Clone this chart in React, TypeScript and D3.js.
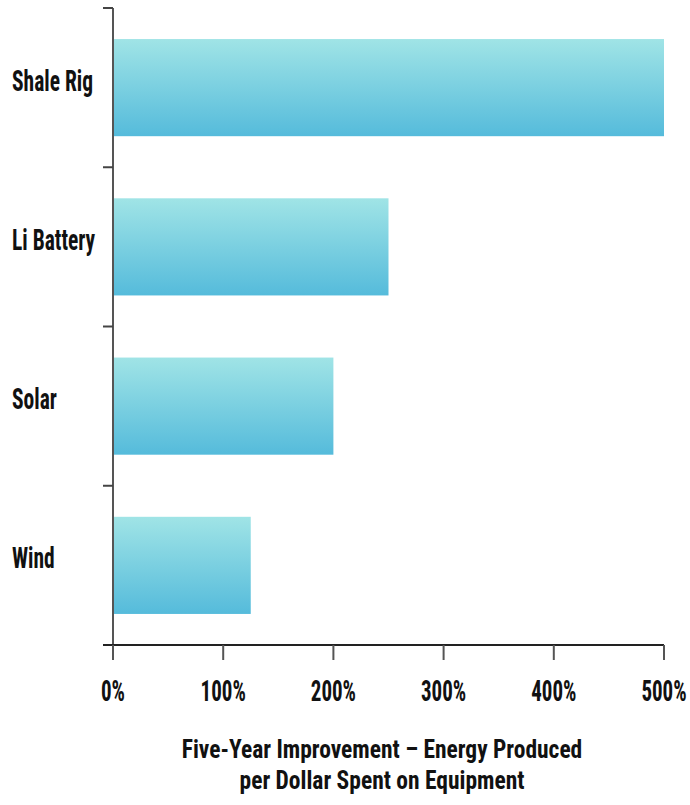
import React, { useEffect, useRef } from "react";
import * as d3 from "d3";

const categories = ["Shale Rig", "Li Battery", "Solar", "Wind"];
const values = [500, 250, 200, 125];
const xTicks = [0, 100, 200, 300, 400, 500];
const titleLines = ["Five-Year Improvement \u2013 Energy Produced", "per Dollar Spent on Equipment"];

const W = 690;
const H = 805;
const FONT = "'Liberation Sans Narrow', 'Roboto Condensed', 'Arial Narrow', 'Liberation Sans', sans-serif";
const STRETCH = 1.37;

export default function App() {
  const ref = useRef<SVGSVGElement>(null);
  useEffect(() => {
    const svg = d3.select(ref.current);
    svg.selectAll("*").remove();
    const left = 113, right = 664, top = 8, bottom = 645;
    const x = d3.scaleLinear().domain([0, 500]).range([left, right]);
    const y = d3.scaleBand().domain(categories).range([top, bottom]).paddingInner(0.39).paddingOuter(0.195);

    const defs = svg.append("defs");
    const g = defs.append("linearGradient").attr("id", "barGrad").attr("x1", 0).attr("y1", 0).attr("x2", 0).attr("y2", 1);
    g.append("stop").attr("offset", "0%").attr("stop-color", "#a0e4e6");
    g.append("stop").attr("offset", "100%").attr("stop-color", "#55bbdb");

    svg.append("g").selectAll("rect").data(values).join("rect")
      .attr("x", x(0))
      .attr("y", (_, i) => y(categories[i])!)
      .attr("width", (d) => x(d) - x(0))
      .attr("height", y.bandwidth())
      .attr("fill", "url(#barGrad)");

    // y axis
    const step = (bottom - top) / categories.length;
    const yTickPos = d3.range(categories.length + 1).map((i) => top + i * step);
    svg.append("line").attr("x1", left).attr("x2", left).attr("y1", top).attr("y2", bottom)
      .attr("stroke", "#555").attr("stroke-width", 2);
    svg.append("g").selectAll("line").data(yTickPos).join("line")
      .attr("x1", left - 10).attr("x2", left).attr("y1", (d) => d).attr("y2", (d) => d)
      .attr("stroke", "#444").attr("stroke-width", 2);

    // x axis
    svg.append("line").attr("x1", left - 10).attr("x2", right).attr("y1", bottom).attr("y2", bottom)
      .attr("stroke", "#222").attr("stroke-width", 2);
    svg.append("g").selectAll("line").data(xTicks).join("line")
      .attr("x1", (d) => x(d)).attr("x2", (d) => x(d)).attr("y1", bottom).attr("y2", bottom + 15)
      .attr("stroke", "#555").attr("stroke-width", 2);

    svg.append("g").selectAll("text").data(xTicks).join("text")
      .attr("transform", (d) => `translate(${x(d)},701) scale(1,${STRETCH})`)
      .attr("text-anchor", "middle")
      .attr("font-family", FONT).attr("font-weight", "bold").attr("font-size", 21)
      .attr("fill", "#111")
      .text((d) => `${d}%`);

    svg.append("g").selectAll("text").data(categories).join("text")
      .attr("transform", (d) => `translate(12,${y(d)! + y.bandwidth() / 2 + 3}) scale(1,${STRETCH})`)
      .attr("text-anchor", "start")
      .attr("font-family", FONT).attr("font-weight", "bold").attr("font-size", 21.5)
      .attr("fill", "#111")
      .text((d) => d);

    svg.append("g").selectAll("text").data(titleLines).join("text")
      .attr("transform", (_, i) => `translate(382,${758 + i * 31}) scale(1,1.1)`)
      .attr("text-anchor", "middle")
      .attr("font-family", FONT).attr("font-weight", "bold").attr("font-size", 23.5)
      .attr("fill", "#111")
      .text((d) => d);
  }, []);
  return (
    <svg ref={ref} width={W} height={H} style={{ position: "absolute", left: 0, top: 0, background: "#fff" }} />
  );
}
